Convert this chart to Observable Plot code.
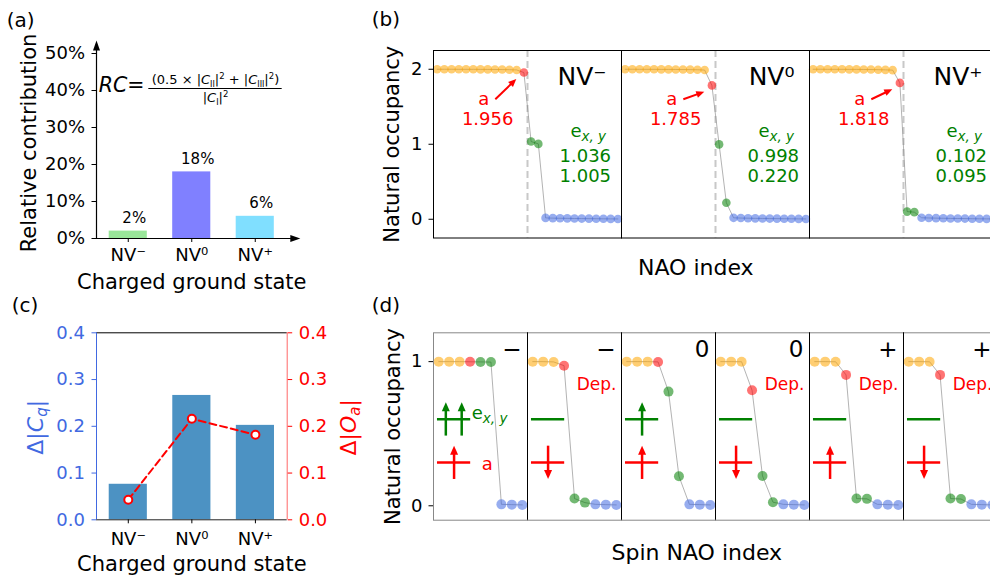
<!DOCTYPE html>
<html><head><meta charset="utf-8">
<script src="https://cdn.jsdelivr.net/npm/d3@7"></script>
<script src="https://cdn.jsdelivr.net/npm/@observablehq/plot@0.6"></script>
<style>
html,body{margin:0;padding:0;background:#fff;overflow:hidden;}
#fig{position:relative;width:990px;height:581px;overflow:hidden;font-family:"DejaVu Sans",sans-serif;background:#fff;}
.plab{position:absolute;font-size:20px;line-height:1;color:#000;font-family:"DejaVu Sans",sans-serif;}
</style></head><body><div id="fig"></div>
<script>
// ---------- data ----------
const chargeStates = ["NV⁻", "NV⁰", "NV⁺"];
const rcValues = [0.02, 0.18, 0.06];
const rcLabels = ["2%", "18%", "6%"];
const rcTicks = [0, 0.1, 0.2, 0.3, 0.4, 0.5];

const dCq = [0.076, 0.266, 0.202];
const dOa = [0.043, 0.216, 0.182];
const cTicks = [0, 0.1, 0.2, 0.3, 0.4];

const naoKinds = ["core","core","core","core","core","core","core","core","core","core","core","core",
  "a","e","e","virt","virt","virt","virt","virt","virt","virt","virt","virt","virt","virt"];
const occNVminus = [2.000,2.000,2.000,1.999,1.999,1.999,1.998,1.998,1.997,1.996,1.994,1.991,
  1.956,1.036,1.005,0.018,0.015,0.013,0.012,0.010,0.009,0.008,0.007,0.006,0.005,0.004];
const occNV0 = [2.000,2.000,1.999,1.999,1.999,1.998,1.998,1.997,1.996,1.995,1.993,1.989,
  1.785,0.998,0.220,0.019,0.016,0.014,0.012,0.011,0.009,0.008,0.007,0.006,0.005,0.004];
const occNVplus = [2.000,2.000,1.999,1.999,1.999,1.998,1.998,1.997,1.996,1.994,1.992,1.988,
  1.818,0.102,0.095,0.020,0.017,0.015,0.013,0.011,0.010,0.009,0.007,0.006,0.005,0.004];
const occTicks = [0, 1, 2];

const spinPanels = ["NV⁻ α", "NV⁻ β", "NV⁰ α", "NV⁰ β", "NV⁺ α", "NV⁺ β"];
const spinSigns = ["−", "−", "0", "0", "+", "+"];
const spinKinds = ["core","core","core","a","e","e","virt","virt","virt"];
const spinNVminusA = [1.000,1.000,1.000,0.999,0.998,0.997,0.010,0.008,0.006];
const spinNVminusB = [1.000,1.000,0.998,0.972,0.050,0.022,0.010,0.008,0.006];
const spinNV0A = [1.000,1.000,1.000,0.998,0.792,0.205,0.010,0.008,0.006];
const spinNV0B = [1.000,1.000,0.999,0.801,0.207,0.025,0.010,0.008,0.006];
const spinNVplusA = [1.000,1.000,0.999,0.908,0.050,0.048,0.010,0.008,0.006];
const spinNVplusB = [1.000,1.000,0.999,0.908,0.050,0.047,0.010,0.008,0.006];
const spinTicks = [0, 1];
const aSpinDir = ["up", "down", "up", "down", "up", "down"];
const eUpCount = [2, 0, 1, 0, 0, 0];
const depleted = [false, true, false, true, true, true];

// ---------- styles ----------
const palette = {core: "orange", a: "red", e: "green", virt: "royalblue"};
const rcColors = ["#99e699", "#8080ff", "#80dfff"];
const baseStyle = "font-family:'DejaVu Sans',sans-serif;background:transparent;overflow:visible;max-width:none;";
const fmt3 = d3.format(".3f");
const fmtInt = d => String(d);

const fig = document.getElementById("fig");
function place(svg, left, top) {
  svg.style.position = "absolute";
  svg.style.left = left + "px";
  svg.style.top = top + "px";
  fig.appendChild(svg);
}
function richify(svg, marker, parts) {
  for (const t of svg.querySelectorAll("text")) {
    if (t.textContent !== marker) continue;
    while (t.firstChild) t.removeChild(t.firstChild);
    let shift = 0;
    for (const p of parts) {
      const ts = document.createElementNS("http://www.w3.org/2000/svg", "tspan");
      ts.textContent = p.t;
      if (p.it) ts.setAttribute("font-style", "italic");
      if (p.fs) ts.setAttribute("font-size", p.fs);
      const sh = p.sh || 0;
      if (sh !== shift) { ts.setAttribute("dy", sh - shift); shift = sh; }
      t.appendChild(ts);
    }
  }
}
function label(text, left, top) {
  const d = document.createElement("div");
  d.className = "plab"; d.textContent = text;
  d.style.left = left + "px"; d.style.top = top + "px";
  fig.appendChild(d);
}

// ---------- panel (a) ----------
const numText = "(0.5 × |C_II|² + |C_III|²)";
const denText = "|C_I|²";
const plotA = Plot.plot({
  width: 330, height: 300, marginLeft: 96, marginRight: 43.5, marginTop: 53, marginBottom: 62,
  style: baseStyle,
  x: {domain: [-0.5, 2.5], axis: null},
  y: {domain: [0, 0.5], axis: null},
  color: {type: "identity"},
  marks: [
    Plot.rect(rcValues, {x1: (d, i) => i - 0.3, x2: (d, i) => i + 0.3, y1: 0, y2: d => d, fill: (d, i) => rcColors[i]}),
    Plot.text(rcValues, {x: (d, i) => i, y: d => d, text: (d, i) => rcLabels[i], dx: 6, dy: -13, fontSize: 15}),
    Plot.ruleX([-0.5], {y1: 0, y2: 0.52, stroke: "black", strokeWidth: 1.2}),
    Plot.vector([-0.5], {x: d => d, y: 0.535, rotate: 0, length: 10, r: 3.5, shape: "spike", anchor: "end", fill: "black", stroke: "none"}),
    Plot.ruleY([0], {x1: -0.5, x2: 2.6, stroke: "black", strokeWidth: 1.2}),
    Plot.vector([0], {x: 2.71, y: d => d, rotate: 90, length: 10, r: 3.5, shape: "spike", anchor: "end", fill: "black", stroke: "none"}),
    Plot.axisY({ticks: rcTicks, tickFormat: d => Math.round(d * 100) + "%", tickSize: 4.5, tickPadding: 7, fontSize: 18, label: null}),
    Plot.axisX({ticks: [0, 1, 2], tickFormat: i => chargeStates[i], tickSize: 4, tickPadding: 6, fontSize: 18, label: null}),
    Plot.text(["Relative contribution"], {frameAnchor: "left", textAnchor: "middle", lineAnchor: "middle", dx: -67, dy: -3, rotate: -90, fontSize: 21}),
    Plot.text(["Charged ground state"], {frameAnchor: "bottom", lineAnchor: "middle", dy: 43.8, fontSize: 21}),
    Plot.text(["RC="], {x: -0.464, y: 0.4127, textAnchor: "start", fontSize: 20.5}),
    Plot.text([numText], {x: 1.374, y: 0.4276, fontSize: 13}),
    Plot.ruleY([0.4054], {x1: 0.324, x2: 2.424, stroke: "black", strokeWidth: 1}),
    Plot.text([denText], {x: 1.374, y: 0.379, fontSize: 13})
  ]
});
richify(plotA, "RC=", [{t: "RC", it: 1}, {t: "="}]);
richify(plotA, numText, [{t: "(0.5 × |"}, {t: "C", it: 1}, {t: "II", fs: 8, sh: 2.5}, {t: "|", sh: 0},
  {t: "2", fs: 8.5, sh: -5}, {t: " + |", sh: 0}, {t: "C", it: 1}, {t: "III", fs: 8, sh: 2.5}, {t: "|", sh: 0},
  {t: "2", fs: 8.5, sh: -5}, {t: ")", sh: 0}]);
richify(plotA, denText, [{t: "|"}, {t: "C", it: 1}, {t: "I", fs: 8, sh: 2.5}, {t: "|", sh: 0}, {t: "2", fs: 8.5, sh: -5}]);
place(plotA, 0, 0);

// ---------- panel (c) ----------
const plotC = Plot.plot({
  width: 380, height: 291, marginLeft: 96, marginRight: 93.3, marginTop: 42.3, marginBottom: 61.7,
  style: baseStyle,
  x: {domain: [-0.5, 2.5], axis: null},
  y: {domain: [0, 0.4], axis: null},
  marks: [
    Plot.rect(dCq, {x1: (d, i) => i - 0.3, x2: (d, i) => i + 0.3, y1: 0, y2: d => d, fill: "#1f77b4", fillOpacity: 0.8}),
    Plot.ruleY([0.4], {stroke: "black"}),
    Plot.ruleY([0], {stroke: "#222"}),
    Plot.ruleX([-0.5], {stroke: "royalblue"}),
    Plot.ruleX([2.5], {stroke: "red", strokeOpacity: 0.6}),
    Plot.line(dOa, {x: (d, i) => i, y: d => d, stroke: "red", strokeWidth: 2, strokeDasharray: "7,4"}),
    Plot.dot(dOa, {x: (d, i) => i, y: d => d, r: 4, fill: "white", stroke: "red", strokeWidth: 2}),
    Plot.axisY({anchor: "left", ticks: cTicks, tickFormat: d3.format(".1f"), color: "royalblue", tickSize: 4.5, tickPadding: 7, fontSize: 18, label: null}),
    Plot.axisY({anchor: "right", ticks: cTicks, tickFormat: d3.format(".1f"), color: "red", tickSize: 4.5, tickPadding: 7, fontSize: 18, label: null}),
    Plot.axisX({ticks: [0, 1, 2], tickFormat: i => chargeStates[i], tickSize: 4, tickPadding: 8, fontSize: 18, label: null}),
    Plot.text(["Δ|C_q|"], {frameAnchor: "left", textAnchor: "middle", lineAnchor: "middle", dx: -60.5, dy: 1, rotate: -90, fontSize: 22, fill: "royalblue"}),
    Plot.text(["Δ|O_a|"], {frameAnchor: "right", textAnchor: "middle", lineAnchor: "middle", dx: 62, dy: 1, rotate: -90, fontSize: 22, fill: "red"}),
    Plot.text(["Charged ground state"], {frameAnchor: "bottom", lineAnchor: "middle", dy: 44, fontSize: 21})
  ]
});
richify(plotC, "Δ|C_q|", [{t: "Δ|"}, {t: "C", it: 1}, {t: "q", it: 1, fs: 15, sh: 4}, {t: "|", sh: 0}]);
richify(plotC, "Δ|O_a|", [{t: "Δ|"}, {t: "O", it: 1}, {t: "a", it: 1, fs: 15, sh: 4}, {t: "|", sh: 0}]);
place(plotC, 0, 290);

// ---------- panel (b) ----------
const occB = [occNVminus, occNV0, occNVplus];
const naoData = chargeStates.flatMap((s, k) => occB[k].map((v, i) => ({state: s, i, v, kind: naoKinds[i]})));
const bAnn = chargeStates.map((s, k) => ({state: s, a: occB[k][12], e1: occB[k][13], e2: occB[k][14]}));
const bW = 680, bML = 101.3, bMR = 12, bMT = 50, bMB = 62.5;
const bKx = (bW - bML - bMR) / 3 / 26, bKy = (300 - bMT - bMB) / 2.5;
const arrX1 = 8.05, arrY1 = 1.6, arrX2 = 10.95, arrGap = 0.085;
const arrEndY = d => d.a - arrGap;
const arrAngle = d => Math.atan2((arrX2 - arrX1) * bKx, (arrEndY(d) - arrY1) * bKy) * 180 / Math.PI;
const plotB = Plot.plot({
  width: bW, height: 300, marginLeft: bML, marginRight: bMR, marginTop: bMT, marginBottom: bMB,
  style: baseStyle,
  fx: {domain: chargeStates, padding: 0, axis: null},
  x: {domain: [-0.5, 25.5], axis: null},
  y: {domain: [-0.25, 2.25], axis: null},
  color: {type: "identity"},
  marks: [
    Plot.ruleX([12.5], {stroke: "#c8c8c8", strokeWidth: 2, strokeDasharray: "7,4"}),
    Plot.line(naoData, {fx: "state", x: "i", y: "v", stroke: "gray", strokeOpacity: 0.6, strokeWidth: 1}),
    Plot.dot(naoData, {fx: "state", x: "i", y: "v", r: 4.3, fill: d => palette[d.kind], fillOpacity: 0.55}),
    Plot.frame({stroke: "black"}),
    Plot.text(bAnn, {fx: "state", x: 25.5, y: 1.9, text: "state", textAnchor: "end", dx: -15, fontSize: 25}),
    Plot.text(bAnn, {fx: "state", x: 6.44, y: 1.6, text: () => "a", fill: "red", fontSize: 18}),
    Plot.text(bAnn, {fx: "state", x: 6.99, y: 1.335, text: d => fmt3(d.a), fill: "red", fontSize: 18}),
    Plot.link(bAnn, {fx: "state", x1: arrX1, y1: arrY1, x2: arrX1 + 0.75 * (arrX2 - arrX1), y2: d => arrY1 + 0.75 * (arrEndY(d) - arrY1), stroke: "red", strokeWidth: 2}),
    Plot.vector(bAnn, {fx: "state", x: arrX2, y: arrEndY, rotate: arrAngle, length: 8, r: 3.5, shape: "spike", anchor: "end", fill: "red", stroke: "none"}),
    Plot.text(bAnn, {fx: "state", x: 20.9, y: 1.17, text: () => "e_{x,y}", fill: "green", fontSize: 18}),
    Plot.text(bAnn, {fx: "state", x: 20.49, y: 0.845, text: d => fmt3(d.e1), fill: "green", fontSize: 18}),
    Plot.text(bAnn, {fx: "state", x: 20.49, y: 0.579, text: d => fmt3(d.e2), fill: "green", fontSize: 18}),
    Plot.axisY({ticks: occTicks, tickFormat: fmtInt, tickSize: 4.5, tickPadding: 6.5, fontSize: 18, label: null, facetAnchor: "left"}),
    Plot.text([{state: chargeStates[0]}], {fx: "state", frameAnchor: "left", textAnchor: "middle", lineAnchor: "middle", dx: -41.3, rotate: -90, text: () => "Natural occupancy", fontSize: 21}),
    Plot.text([{state: chargeStates[1]}], {fx: "state", frameAnchor: "bottom", lineAnchor: "middle", dx: -19.7, dy: 29.5, text: () => "NAO index", fontSize: 22})
  ]
});
richify(plotB, "e_{x,y}", [{t: "e"}, {t: "x, y", it: 1, fs: 13.5, sh: 4}]);
place(plotB, 330, 0);

// ---------- panel (d) ----------
const spinOcc = [spinNVminusA, spinNVminusB, spinNV0A, spinNV0B, spinNVplusA, spinNVplusB];
const spinData = spinPanels.flatMap((p, k) => spinOcc[k].map((v, i) => ({p, i, v, kind: spinKinds[i]})));
const eArrows = spinPanels.flatMap((p, k) => eUpCount[k] === 2 ? [{p, x: 0.68}, {p, x: 2.2}] : eUpCount[k] === 1 ? [{p, x: 1.47}] : []);
const aArrows = spinPanels.map((p, k) => ({p, up: aSpinDir[k] === "up"}));
const plotD = Plot.plot({
  width: 680, height: 291, marginLeft: 101.3, marginRight: 12, marginTop: 42.3, marginBottom: 61.3,
  style: baseStyle,
  fx: {domain: spinPanels, padding: 0, axis: null},
  x: {domain: [-0.5, 8.5], axis: null},
  y: {domain: [-0.1, 1.2], axis: null},
  color: {type: "identity"},
  marks: [
    Plot.ruleY([0.6], {x1: -0.12, x2: 3.06, stroke: "green", strokeWidth: 2.5}),
    Plot.ruleY([0.3], {x1: -0.12, x2: 3.06, stroke: "red", strokeWidth: 2.5}),
    Plot.link(eArrows, {fx: "p", x1: "x", x2: "x", y1: 0.487, y2: 0.69, stroke: "green", strokeWidth: 2.5}),
    Plot.vector(eArrows, {fx: "p", x: "x", y: 0.718, rotate: 0, length: 9, r: 4, shape: "spike", anchor: "end", fill: "green", stroke: "none"}),
    Plot.link(aArrows, {fx: "p", x1: 1.47, x2: 1.47, y1: d => d.up ? 0.186 : 0.417, y2: d => d.up ? 0.39 : 0.213, stroke: "red", strokeWidth: 2.5}),
    Plot.vector(aArrows, {fx: "p", x: 1.47, y: d => d.up ? 0.417 : 0.186, rotate: d => d.up ? 0 : 180, length: 9, r: 4, shape: "spike", anchor: "end", fill: "red", stroke: "none"}),
    Plot.line(spinData, {fx: "p", x: "i", y: "v", stroke: "gray", strokeOpacity: 0.6, strokeWidth: 1}),
    Plot.dot(spinData, {fx: "p", x: "i", y: "v", r: 5, fill: d => palette[d.kind], fillOpacity: 0.55}),
    Plot.frame({stroke: "#888"}),
    Plot.ruleX(spinPanels.slice(1), {fx: d => d, x: -0.5, stroke: "black"}),
    Plot.text(spinPanels, {fx: d => d, x: 8.5, y: 1.083, text: (d, i) => spinSigns[i], textAnchor: "end", dx: -6, fontSize: 23}),
    Plot.text(spinPanels.filter((p, k) => depleted[k]), {fx: d => d, x: 8.5, y: 0.838, text: () => "Dep.", textAnchor: "end", dx: -5, fill: "red", fontSize: 17}),
    Plot.text([{p: spinPanels[0]}], {fx: "p", x: 3.16, y: 0.639, text: () => "e_{x,y}", textAnchor: "start", fill: "green", fontSize: 18}),
    Plot.text([{p: spinPanels[0]}], {fx: "p", x: 4.11, y: 0.288, text: () => "a", textAnchor: "start", fill: "red", fontSize: 18}),
    Plot.axisY({ticks: spinTicks, tickFormat: fmtInt, tickSize: 4.5, tickPadding: 6.5, fontSize: 18, label: null, facetAnchor: "left"}),
    Plot.text([{p: spinPanels[0]}], {fx: "p", frameAnchor: "left", textAnchor: "middle", lineAnchor: "middle", dx: -40.7, rotate: -90, text: () => "Natural occupancy", fontSize: 21}),
    Plot.text([{p: spinPanels[2]}], {fx: "p", frameAnchor: "bottom", lineAnchor: "middle", dx: 28.3, dy: 32.6, text: () => "Spin NAO index", fontSize: 22})
  ]
});
richify(plotD, "e_{x,y}", [{t: "e"}, {t: "x, y", it: 1, fs: 13.5, sh: 4}]);
place(plotD, 330, 290);

// ---------- panel letters ----------
label("(a)", 6.7, 10.3);
label("(b)", 371.7, 9);
label("(c)", 11.7, 295.3);
label("(d)", 371.7, 295.3);
</script></body></html>
